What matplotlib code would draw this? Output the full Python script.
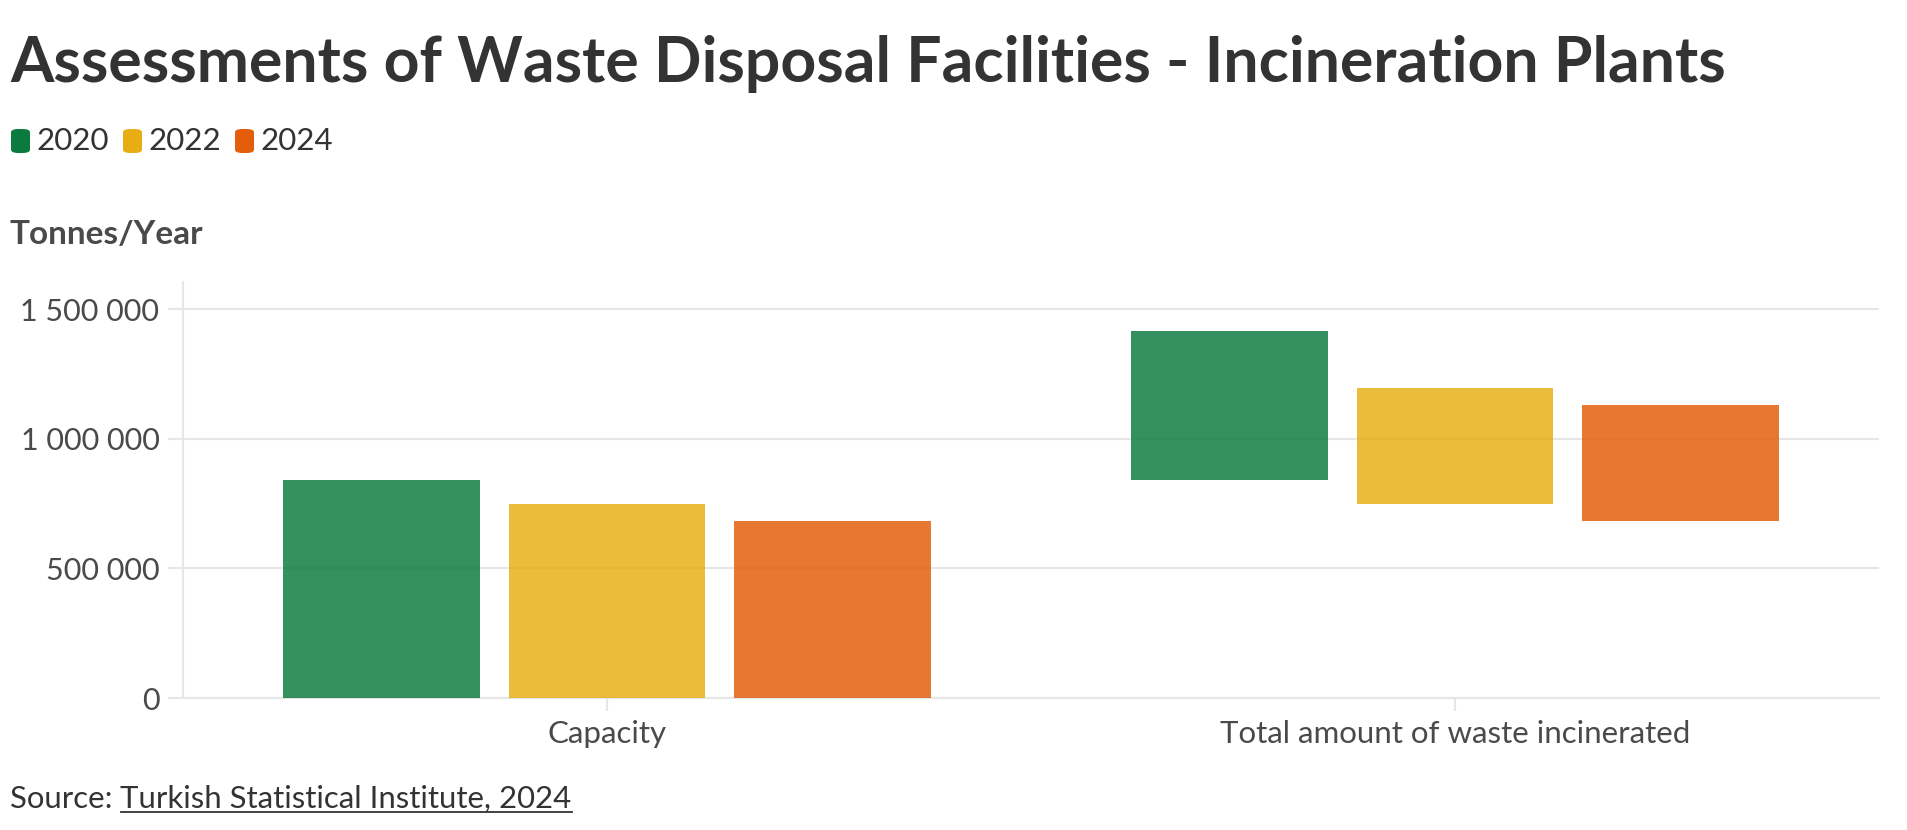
import matplotlib as mpl
mpl.use("Agg")
from matplotlib import pyplot as plt
from matplotlib import ticker
from matplotlib.patches import FancyBboxPatch
import numpy as np

mpl.rc('font', family=['Lato', 'DejaVu Sans'])

# data (tonnes/year)
categories = ["Capacity", "Total amount of waste incinerated"]
years = ["2020", "2022", "2024"]
capacity = [842000, 747000, 682000]
incinerated = [573000, 449000, 449000]   # drawn stacked on top of capacity, as in the source chart

legend_colors = ["#0b7a3e", "#e8ad12", "#e35d0a"]
text_dark = "#333333"
text_mid = "#4a4a4a"
grid_col = "#e6e6e6"

fig = plt.figure(figsize=(19.07, 8.30), dpi=100)
ax = fig.add_axes([183/1907, 1-698/830, (1879-183)/1907, (698-282)/830])

x = np.arange(len(categories))
width = 0.232
step = 0.266

for i, (yr, c) in enumerate(zip(years, legend_colors)):
    off = (i - 1) * step
    ax.bar(x[0] + off, capacity[i], width, color=c, alpha=0.83, lw=0, zorder=3)
    ax.bar(x[1] + off, incinerated[i], width, bottom=capacity[i], color=c, alpha=0.83, lw=0, zorder=3)

ax.set_xlim(-0.5, 1.5)
ax.set_ylim(0, 1605000)
ax.set_yticks([0, 500000, 1000000, 1500000])
ax.yaxis.set_major_formatter(ticker.FuncFormatter(lambda v, p: f"{int(v):,}".replace(",", " ")))
ax.grid(axis='y', color=grid_col, lw=1.5, zorder=0)
ax.set_axisbelow(True)

for s in ['top', 'right']:
    ax.spines[s].set_visible(False)
ax.spines['left'].set_color(grid_col)
ax.spines['left'].set_linewidth(1.5)
ax.spines['bottom'].set_color(grid_col)
ax.spines['bottom'].set_linewidth(1.5)

ax.tick_params(axis='y', length=11, width=1.5, color=grid_col, pad=6, labelsize=22, labelcolor=text_mid)
ax.tick_params(axis='x', length=9, width=1.5, color=grid_col, pad=7, labelsize=22.5, labelcolor=text_mid)
ax.set_xticks(x)
ax.set_xticklabels(categories)

# title, legend, unit label, source
fig.text(10/1907, 1-82/830, "Assessments of Waste Disposal Facilities - Incineration Plants",
         fontsize=45, fontweight='bold', color=text_dark, ha='left', va='baseline')

lx = 11
for yr, c in zip(years, legend_colors):
    sw = FancyBboxPatch((lx/1907, 1-153/830), 19/1907, 24/830,
                        boxstyle="round,pad=0,rounding_size=0.004",
                        transform=fig.transFigure, fc=c, ec='none')
    fig.patches.append(sw)
    fig.text((lx+25)/1907, 1-141/830, yr, fontsize=22.5, color=text_dark, ha='left', va='center')
    lx += 112

fig.text(10/1907, 1-244/830, "Tonnes/Year", fontsize=24, fontweight='bold', color=text_mid,
         ha='left', va='baseline')

src = fig.text(10/1907, 1-808/830, "Source: ", fontsize=22.4, color=text_dark, ha='left', va='baseline')
fig.canvas.draw()
bb = src.get_window_extent()
link = fig.text(bb.x1/1907, 1-808/830, "Turkish Statistical Institute, 2024", fontsize=22.4,
                color=text_dark, ha='left', va='baseline')
fig.canvas.draw()
lb = link.get_window_extent()
fig.add_artist(plt.Line2D([lb.x0/1907, lb.x1/1907], [(830-812)/830]*2, color=text_dark, lw=1.3,
                          transform=fig.transFigure))

fig.savefig("out.png", dpi=100, facecolor='white')
